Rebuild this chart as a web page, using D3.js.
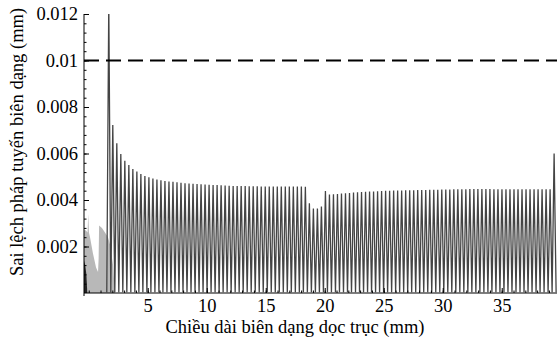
<!DOCTYPE html>
<html>
<head>
<meta charset="utf-8">
<script src="https://cdn.jsdelivr.net/npm/d3@7/dist/d3.min.js"></script>
<style>
  body { margin: 0; background: #fff; }
  svg { display: block; }
</style>
</head>
<body>
<svg id="chart" width="557" height="338"></svg>
<script>
var serif = "Liberation Serif, Times New Roman, serif";

// axis ticks
var xTickVals = [5, 10, 15, 20, 25, 30, 35];
var yTickVals = [0.002, 0.004, 0.006, 0.008, 0.01, 0.012];
var yTickLabels = ["0.002", "0.004", "0.006", "0.008", "0.01", "0.012"];
var limitValue = 0.01;

// light grey start zone (dense noise) and the dark bit at the very start
var startX   = [-0.4, -0.25, -0.1, -0.04, 0.02, 0.11, 0.36, 0.62, 0.79, 0.84, 0.88, 1.12, 1.38, 1.63, 1.8, 2.06, 2.23];
var startTop = [0.0027, 0.0027, 0.0026, 0.0034, 0.0026, 0.0024, 0.0017, 0.0011, 0.0009, 0.0015, 0.0029, 0.0028, 0.0026, 0.0024, 0.0021, 0.0012, 0];
var darkX    = [-0.4, -0.3, -0.2, -0.12];
var darkTop  = [0.0014, 0.0012, 0.0008, 0];

// spike peaks along the profile, one per pitch
var spikeStart = 1.7, spikePitch = 0.34;
var spikePeaks = [
  0.0125,
  0.00723, 0.00644, 0.00598, 0.00569, 0.0055, 0.00533, 0.00522, 0.00512, 0.00503, 0.00498, 0.00492, 0.00488,
  0.00485, 0.00482, 0.0048, 0.00478, 0.00476, 0.00474, 0.00472, 0.00471, 0.0047, 0.00469,
  0.00468, 0.00467, 0.00466, 0.00465, 0.00464, 0.00463, 0.00462, 0.00461, 0.0046, 0.0046,
  0.0046, 0.0046, 0.00459, 0.00459, 0.00459, 0.00458, 0.00458, 0.00458, 0.00458,
  0.00458, 0.00458, 0.00458, 0.00458, 0.00458, 0.00458, 0.00458, 0.00457,
  0.00386, 0.00363, 0.00363, 0.00372,
  0.00439, 0.00424,
  0.00425, 0.00426, 0.00428, 0.00429, 0.0043, 0.00432, 0.00433, 0.00434, 0.00435, 0.00436,
  0.00437, 0.00438, 0.00439, 0.0044, 0.0044,
  0.00441, 0.00441, 0.00441, 0.00442, 0.00442, 0.00442, 0.00443, 0.00443, 0.00443, 0.00444,
  0.00444, 0.00444, 0.00445, 0.00445, 0.00445, 0.00446, 0.00446, 0.00446, 0.00446, 0.00447,
  0.00447, 0.00447, 0.00447, 0.00447, 0.00447, 0.00446, 0.00446, 0.00446, 0.00446, 0.00446,
  0.00446, 0.00446, 0.00446, 0.00446, 0.00446, 0.00446, 0.00446, 0.00446, 0.00446, 0.00446,
  0.006
];
var trough = 0.00003;

var svg = d3.select("#chart");

var x = d3.scaleLinear().domain([-0.4, 39.6]).range([84, 556]);
var y = d3.scaleLinear().domain([0, 0.012]).range([293, 14]);

svg.append("clipPath").attr("id", "plotclip")
  .append("rect").attr("x", 84).attr("y", 14).attr("width", 473).attr("height", 279);

var plot = svg.append("g").attr("clip-path", "url(#plotclip)");

// start zone
plot.append("path")
  .datum(startX.map(function(d, i) { return [d, startTop[i]]; }))
  .attr("fill", "#b8b8b8")
  .attr("d", d3.area().x(function(d) { return x(d[0]); }).y0(y(0)).y1(function(d) { return y(d[1]); }));

plot.append("path")
  .datum(darkX.map(function(d, i) { return [d, darkTop[i]]; }))
  .attr("fill", "#222")
  .attr("d", d3.area().x(function(d) { return x(d[0]); }).y0(y(0)).y1(function(d) { return y(d[1]); }));

// spikes
var pts = [];
spikePeaks.forEach(function(pk, i) {
  var c = spikeStart + i * spikePitch;
  pts.push([c - 0.5 * spikePitch, trough]);
  pts.push([c, pk]);
});
pts.push([spikeStart + (spikePeaks.length - 0.5) * spikePitch, trough]);

plot.append("path")
  .datum(pts)
  .attr("fill", "none")
  .attr("stroke", "#444")
  .attr("stroke-width", 1.3)
  .attr("stroke-linejoin", "miter")
  .attr("stroke-miterlimit", 1)
  .attr("d", d3.line().x(function(d) { return x(d[0]); }).y(function(d) { return y(d[1]); }));

// tolerance limit
svg.append("line")
  .attr("x1", x(-0.4)).attr("x2", 557)
  .attr("y1", y(limitValue)).attr("y2", y(limitValue))
  .attr("stroke", "#000").attr("stroke-width", 2)
  .attr("stroke-dasharray", "15,7");

// X axis
svg.append("g")
  .attr("transform", "translate(0," + y(0) + ")")
  .call(d3.axisBottom(x).tickValues(d3.range(0, 40, 1)).tickSizeInner(-2.5).tickSizeOuter(0).tickFormat(""))
  .call(function(g) { g.select(".domain").remove(); });
var xAxis = svg.append("g")
  .attr("transform", "translate(0," + y(0) + ")")
  .call(d3.axisBottom(x).tickValues(xTickVals).tickSizeInner(-5).tickSizeOuter(0).tickPadding(6));
xAxis.select(".domain").attr("d", "M84,0H557");

// Y axis
svg.append("g")
  .attr("transform", "translate(" + x(-0.4) + ",0)")
  .call(d3.axisLeft(y).tickValues(d3.range(1, 30).map(function(k) { return k * 0.0004; })).tickSizeInner(-2.5).tickSizeOuter(0).tickFormat(""))
  .call(function(g) { g.select(".domain").remove(); });
var yAxis = svg.append("g")
  .attr("transform", "translate(" + x(-0.4) + ",0)")
  .call(d3.axisLeft(y).tickValues(yTickVals).tickSizeInner(-5).tickSizeOuter(0).tickPadding(6)
    .tickFormat(function(d, i) { return yTickLabels[i]; }));
yAxis.select(".domain").attr("d", "M0,14V296");

svg.selectAll(".tick line, .domain").attr("stroke", "#000");
svg.selectAll("g").attr("font-family", serif);
svg.selectAll(".tick text").attr("font-family", serif).attr("font-size", 18.5).attr("fill", "#000");

// titles
svg.append("text")
  .attr("x", 295).attr("y", 333)
  .attr("text-anchor", "middle")
  .attr("font-family", serif)
  .attr("font-size", 18.5)
  .text("Chiều dài biên dạng dọc trục (mm)");

svg.append("text")
  .attr("transform", "translate(23,142) rotate(-90)")
  .attr("text-anchor", "middle")
  .attr("font-family", serif)
  .attr("font-size", 18.5)
  .text("Sai lệch pháp tuyến biên dạng (mm)");
</script>
</body>
</html>
